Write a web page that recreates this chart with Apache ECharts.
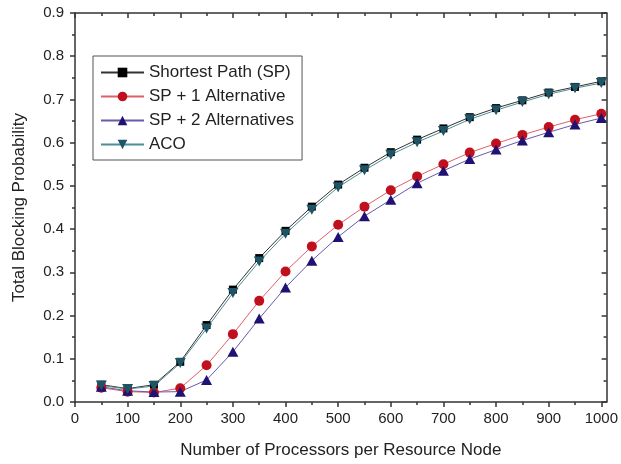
<!DOCTYPE html>
<html>
<head>
<meta charset="utf-8">
<script src="https://cdn.jsdelivr.net/npm/echarts@6/dist/echarts.min.js"></script>
<style>
  html, body { margin: 0; padding: 0; background: #fff; }
  #chart { width: 621px; height: 464px; }
</style>
</head>
<body>
<div id="chart"></div>
<script>
// 横轴: 每个资源节点的处理器数量
var processors = [50, 100, 150, 200, 250, 300, 350, 400, 450, 500, 550, 600, 650, 700, 750, 800, 850, 900, 950, 1000];

// 各方案的阻塞概率
var shortestPath = [0.040, 0.031, 0.040, 0.093, 0.178, 0.260, 0.333, 0.396, 0.452, 0.503, 0.542, 0.578, 0.607, 0.633, 0.659, 0.680, 0.698, 0.716, 0.729, 0.742];
var sp1Alt = [0.033, 0.024, 0.022, 0.032, 0.085, 0.157, 0.234, 0.302, 0.360, 0.410, 0.452, 0.490, 0.522, 0.550, 0.577, 0.598, 0.618, 0.636, 0.653, 0.667];
var sp2Alt = [0.035, 0.026, 0.023, 0.024, 0.051, 0.116, 0.193, 0.265, 0.327, 0.382, 0.430, 0.468, 0.506, 0.535, 0.562, 0.584, 0.605, 0.624, 0.642, 0.657];
var aco = [0.038, 0.030, 0.037, 0.090, 0.170, 0.252, 0.325, 0.389, 0.445, 0.497, 0.536, 0.572, 0.601, 0.627, 0.654, 0.675, 0.694, 0.712, 0.726, 0.738];

// 刻度
var xMajorTicks = [0, 100, 200, 300, 400, 500, 600, 700, 800, 900, 1000];
var xMinorTicks = [50, 150, 250, 350, 450, 550, 650, 750, 850, 950];

var seriesNames = ['Shortest Path (SP)', 'SP + 1 Alternative', 'SP + 2 Alternatives', 'ACO'];

function pairs(ys) {
    return processors.map(function (x, i) { return [x, ys[i]]; });
}

var axisColor = '#333';
var textColor = '#222';
var fontFamily = '"Liberation Sans", Arial, sans-serif';

// 生成一组横轴(主刻度/次刻度, 底部/顶部)
function makeXAxis(position, ticks, len, inside, isMain) {
    return {
        type: 'value',
        position: position,
        min: 0,
        max: 1010,
        name: (isMain && position === 'bottom') ? 'Number of Processors per Resource Node' : '',
        nameLocation: 'middle',
        nameGap: 40,
        nameTextStyle: { fontSize: 17, color: textColor, fontFamily: fontFamily },
        axisLine: { show: isMain, onZero: false, lineStyle: { color: axisColor, width: 1.5 } },
        axisTick: { show: true, inside: inside, length: len, customValues: ticks, lineStyle: { color: axisColor, width: 1.5 } },
        axisLabel: {
            show: isMain && position === 'bottom',
            customValues: xMajorTicks,
            margin: 9,
            fontSize: 15,
            color: textColor,
            fontFamily: fontFamily,
            formatter: function (v) { return String(v); }
        },
        splitLine: { show: false }
    };
}

function makeYAxis(position, inside, isMain) {
    return {
        type: 'value',
        position: position,
        min: 0,
        max: 0.9,
        interval: 0.1,
        name: isMain ? 'Total Blocking Probability' : '',
        nameLocation: 'middle',
        nameGap: 47,
        nameTextStyle: { fontSize: 17, color: textColor, fontFamily: fontFamily },
        axisLine: { show: true, onZero: false, lineStyle: { color: axisColor, width: 1.5 } },
        axisTick: { show: true, inside: inside, length: 5, lineStyle: { color: axisColor, width: 1.5 } },
        minorTick: { show: true, splitNumber: 2, length: 3, lineStyle: { color: axisColor, width: 1.5 } },
        axisLabel: {
            show: isMain,
            margin: 11,
            fontSize: 15,
            color: textColor,
            fontFamily: fontFamily,
            formatter: function (v) { return v.toFixed(1); }
        },
        splitLine: { show: false },
        minorSplitLine: { show: false }
    };
}

var chart = echarts.init(document.getElementById('chart'));

chart.setOption({
    backgroundColor: '#fff',
    animation: false,
    grid: { left: 75, right: 14, top: 13, bottom: 61, containLabel: false },
    legend: {
        orient: 'vertical',
        left: 93,
        top: 56,
        itemWidth: 43,
        itemHeight: 12,
        itemGap: 7,
        padding: [8, 8, 7, 7],
        borderColor: '#555',
        borderWidth: 1,
        backgroundColor: '#fff',
        textStyle: { fontSize: 17, color: textColor, fontFamily: fontFamily },
        data: seriesNames
    },
    xAxis: [
        makeXAxis('bottom', xMajorTicks, 5, false, true),
        makeXAxis('bottom', xMinorTicks, 3, false, false),
        makeXAxis('top', xMajorTicks, 5, true, true),
        makeXAxis('top', xMinorTicks, 3, true, false)
    ],
    yAxis: [
        makeYAxis('left', false, true),
        makeYAxis('right', true, false)
    ],
    series: [
        {
            name: seriesNames[0],
            type: 'line',
            data: pairs(shortestPath),
            symbol: 'rect',
            symbolSize: 8,
            itemStyle: { color: '#000' },
            lineStyle: { color: '#333', width: 1 }
        },
        {
            name: seriesNames[1],
            type: 'line',
            data: pairs(sp1Alt),
            symbol: 'circle',
            symbolSize: 10,
            itemStyle: { color: '#c0101e' },
            lineStyle: { color: '#e0606a', width: 1 }
        },
        {
            name: seriesNames[2],
            type: 'line',
            data: pairs(sp2Alt),
            symbol: 'triangle',
            symbolSize: [11, 10],
            itemStyle: { color: '#1f1272' },
            lineStyle: { color: '#6a5aaa', width: 1 }
        },
        {
            name: seriesNames[3],
            type: 'line',
            data: pairs(aco),
            symbol: 'path://M0,0 L10,0 L5,9 Z',
            symbolSize: [11, 10],
            itemStyle: { color: '#1d5566' },
            lineStyle: { color: '#4d8e94', width: 1 }
        }
    ]
});
</script>
</body>
</html>
